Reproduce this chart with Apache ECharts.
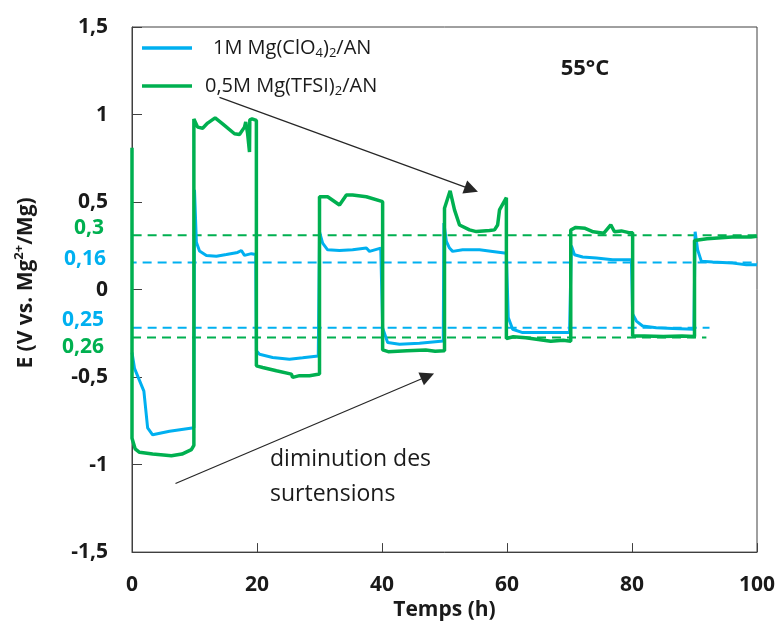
<!DOCTYPE html>
<html>
<head>
<meta charset="utf-8">
<script src="https://cdn.jsdelivr.net/npm/echarts@6/dist/echarts.min.js"></script>
<style>
html,body{margin:0;padding:0;background:#fff;}
#chart{width:782px;height:626px;}
</style>
</head>
<body>
<div id="chart"></div>
<script>
// ---- data (time in h, potential in V vs Mg2+/Mg) ----
const seriesNames = ['1M Mg(ClO4)2/AN', '0,5M Mg(TFSI)2/AN'];
const xTicks = [0, 20, 40, 60, 80, 100];
const yTicks = [-1.5, -1, -0.5, 0, 0.5, 1, 1.5];

const blueData = [
  [0,-0.36],[0.4,-0.45],[1.9,-0.58],[2.5,-0.79],[3.3,-0.83],[6,-0.81],[9.9,-0.79],
  [10.0,0.57],[10.3,0.27],[10.8,0.22],[11.9,0.195],[13.5,0.19],[15.1,0.2],[16.9,0.212],[17.5,0.223],[18.0,0.195],[19.1,0.205],[19.8,0.2],
  [19.9,-0.35],[20.4,-0.37],[22.5,-0.388],[25.2,-0.398],[27.3,-0.39],[29.8,-0.38],
  [30.0,0.33],[30.5,0.265],[31.3,0.227],[33.2,0.223],[35.3,0.227],[37.5,0.237],[38.0,0.218],[39.8,0.237],
  [40.1,-0.22],[40.9,-0.303],[42.8,-0.312],[46,-0.307],[49.8,-0.294],
  [49.9,0.38],[50.3,0.275],[50.8,0.237],[51.3,0.218],[52.9,0.227],[55.6,0.227],[57.7,0.218],[59.9,0.208],
  [60.2,-0.16],[60.9,-0.227],[62.5,-0.246],[66.3,-0.246],[70.0,-0.246],
  [70.3,0.25],[70.8,0.199],[72.1,0.186],[74.3,0.18],[76.9,0.17],[79.9,0.17],
  [80.1,-0.14],[80.7,-0.18],[81.7,-0.208],[83.9,-0.218],[86.5,-0.222],[89.9,-0.227],
  [90.1,0.33],[90.5,0.227],[91.1,0.161],[92.9,0.157],[96.1,0.151],[98.3,0.142],[100,0.142]
];

const greenData = [
  [0,0.81],[0,-0.85],[0.5,-0.91],[1.2,-0.93],[3.3,-0.94],[6.3,-0.95],[8,-0.94],[9.5,-0.915],[9.9,-0.89],
  [9.9,0.975],[10.5,0.928],[11.3,0.922],[12.1,0.951],[13.3,0.981],[14.5,0.947],[16.4,0.89],[17.2,0.886],[18.0,0.928],[18.2,0.957],[18.5,0.89],[18.8,0.786],[18.85,0.97],[19.2,0.975],[19.9,0.966],
  [19.9,-0.436],[20.9,-0.445],[23.1,-0.464],[25.5,-0.483],[25.7,-0.502],[26.8,-0.492],[28.4,-0.492],[30.0,-0.483],
  [30.0,0.53],[31.3,0.53],[33.2,0.483],[34.3,0.54],[35.3,0.54],[37.5,0.53],[40.1,0.502],
  [40.1,-0.345],[41,-0.355],[44,-0.35],[47,-0.345],[48.5,-0.352],[50,-0.35],
  [50,0.464],[50.9,0.564],[51.6,0.455],[52.4,0.369],[54,0.341],[55.1,0.331],[57.2,0.337],[58,0.341],[58.5,0.369],[58.8,0.455],[59.9,0.525],
  [59.9,-0.28],[61,-0.27],[63,-0.275],[65,-0.285],[67,-0.295],[69,-0.29],[70.2,-0.295],
  [70.2,0.34],[71,0.355],[72.5,0.35],[73.8,0.33],[75.5,0.322],[76.6,0.37],[77.2,0.33],[78.3,0.335],[79.5,0.325],[80.1,0.325],
  [80.1,-0.265],[82,-0.265],[85,-0.268],[88,-0.265],[90,-0.268],
  [90,0.28],[92,0.29],[96,0.3],[99,0.3],[100,0.305]
];

// dashed reference levels
const greenUpperRef = [[-2.3,0.31],[100.4,0.31]];
const blueUpperRef  = [[-0.7,0.155],[101.7,0.155]];
const blueLowerRef  = [[-2.3,-0.218],[92.4,-0.218]];
const greenLowerRef = [[-2.4,-0.274],[91.9,-0.274]];
const refLabels = ['0,3', '0,16', '0,25', '0,26'];

// annotation arrows (data coordinates)
const arrowUpper = [[14.0,1.098],[54.3,0.572]];
const arrowLower = [[6.96,-1.108],[47.3,-0.495]];

const BLUE = '#00b0f0', GREEN = '#00b050';
const FONT = 'Open Sans';

const chart = echarts.init(document.getElementById('chart'), null, {renderer:'canvas'});

function refSeries(data, color) {
  return {
    type:'line', data:data, symbol:'none', clip:false, silent:true, z:3,
    lineStyle:{color:color, width:2, type:[9,6]},
    emphasis:{disabled:true}, tooltip:{show:false}
  };
}
function arrowLine(pts) {
  return [{coord:pts[0], symbol:'none'}, {coord:pts[1], symbol:'triangle'}];
}

const richMain = {
  a:{fontSize:20, fontFamily:FONT, color:'#1a1a1a', lineHeight:24},
  s:{fontSize:13, fontFamily:FONT, color:'#1a1a1a', lineHeight:13, verticalAlign:'bottom'},
  g1:{width:16, fontSize:20, lineHeight:24},
  g2:{width:8, fontSize:20, lineHeight:24}
};

const option = {
  animation:false,
  backgroundColor:'#ffffff',
  grid:{left:132, right:25, top:27, bottom:71, show:true, borderColor:'#404040', borderWidth:1},
  legend:{
    data:seriesNames, orient:'vertical', left:142, top:38, padding:0,
    icon:'rect', itemWidth:50, itemHeight:3.5, itemGap:16,
    formatter:function(name){
      if (name === seriesNames[0]) return '{g1| }{a|1M Mg(ClO}{s|4}{a|)}{s|2}{a|/AN}';
      return '{g2| }{a|0,5M Mg(TFSI)}{s|2}{a|/AN}';
    },
    textStyle:{rich:richMain, fontFamily:FONT, fontSize:20}
  },
  xAxis:{
    type:'value', min:xTicks[0], max:xTicks[xTicks.length-1], interval:20,
    axisLine:{show:true, onZero:false, lineStyle:{color:'#404040', width:1}},
    axisTick:{show:true, inside:true, length:9, lineStyle:{color:'#404040'}},
    axisLabel:{fontSize:21, fontWeight:'bold', fontFamily:FONT, color:'#1a1a1a', margin:22},
    splitLine:{show:false},
    name:'Temps (h)', nameLocation:'middle', nameGap:42,
    nameTextStyle:{fontSize:21, fontWeight:'bold', fontFamily:FONT, color:'#1a1a1a'}
  },
  yAxis:{
    type:'value', min:yTicks[0], max:yTicks[yTicks.length-1], interval:0.5,
    axisLine:{show:true, onZero:false, lineStyle:{color:'#404040', width:1}},
    axisTick:{show:true, inside:true, length:10, lineStyle:{color:'#404040'}},
    axisLabel:{fontSize:21, fontWeight:'bold', fontFamily:FONT, color:'#1a1a1a', margin:24,
      formatter:function(v){ return String(v).replace('.', ','); }},
    splitLine:{show:false}
  },
  series:[
    {name:seriesNames[0], type:'line', data:blueData, symbol:'none', z:4,
     lineStyle:{color:BLUE, width:3}, itemStyle:{color:BLUE}},
    {name:seriesNames[1], type:'line', data:greenData, symbol:'none', z:5,
     lineStyle:{color:GREEN, width:3.5}, itemStyle:{color:GREEN}},
    refSeries(greenUpperRef, GREEN),
    refSeries(blueUpperRef, BLUE),
    refSeries(blueLowerRef, BLUE),
    refSeries(greenLowerRef, GREEN),
    {type:'line', data:[], silent:true, z:6,
     markLine:{silent:true, symbolSize:14, animation:false,
       label:{show:false}, emphasis:{disabled:true},
       lineStyle:{color:'#262626', width:1.2, type:'solid'},
       data:[arrowLine(arrowUpper), arrowLine(arrowLower)]}}
  ],
  graphic:[
    {type:'text', x:26, y:283, rotation:Math.PI/2,
     style:{text:'{a|E (V vs. Mg}{s|2+}{a|/Mg)}', align:'center', verticalAlign:'middle',
       rich:{a:{fontSize:21, fontWeight:'bold', fontFamily:FONT, fill:'#1a1a1a', lineHeight:26},
             s:{fontSize:13, fontWeight:'bold', fontFamily:FONT, fill:'#1a1a1a', lineHeight:13, verticalAlign:'top'}}}},
    {type:'text', x:104, y:228, style:{text:refLabels[0], align:'right', verticalAlign:'middle', fill:GREEN, font:'bold 21px "Open Sans"'}},
    {type:'text', x:106, y:259, style:{text:refLabels[1], align:'right', verticalAlign:'middle', fill:BLUE, font:'bold 21px "Open Sans"'}},
    {type:'text', x:104, y:320, style:{text:refLabels[2], align:'right', verticalAlign:'middle', fill:BLUE, font:'bold 21px "Open Sans"'}},
    {type:'text', x:104, y:347, style:{text:refLabels[3], align:'right', verticalAlign:'middle', fill:GREEN, font:'bold 21px "Open Sans"'}},
    {type:'text', x:585, y:69, style:{text:'55°C', align:'center', verticalAlign:'middle', fill:'#1a1a1a', font:'bold 22px "Open Sans"'}},
    {type:'text', x:270, y:442, style:{text:'diminution des\nsurtensions', align:'left', verticalAlign:'top', fill:'#1a1a1a', font:'23px "Open Sans"', lineHeight:35}}
  ]
};
chart.setOption(option);
</script>
</body>
</html>
